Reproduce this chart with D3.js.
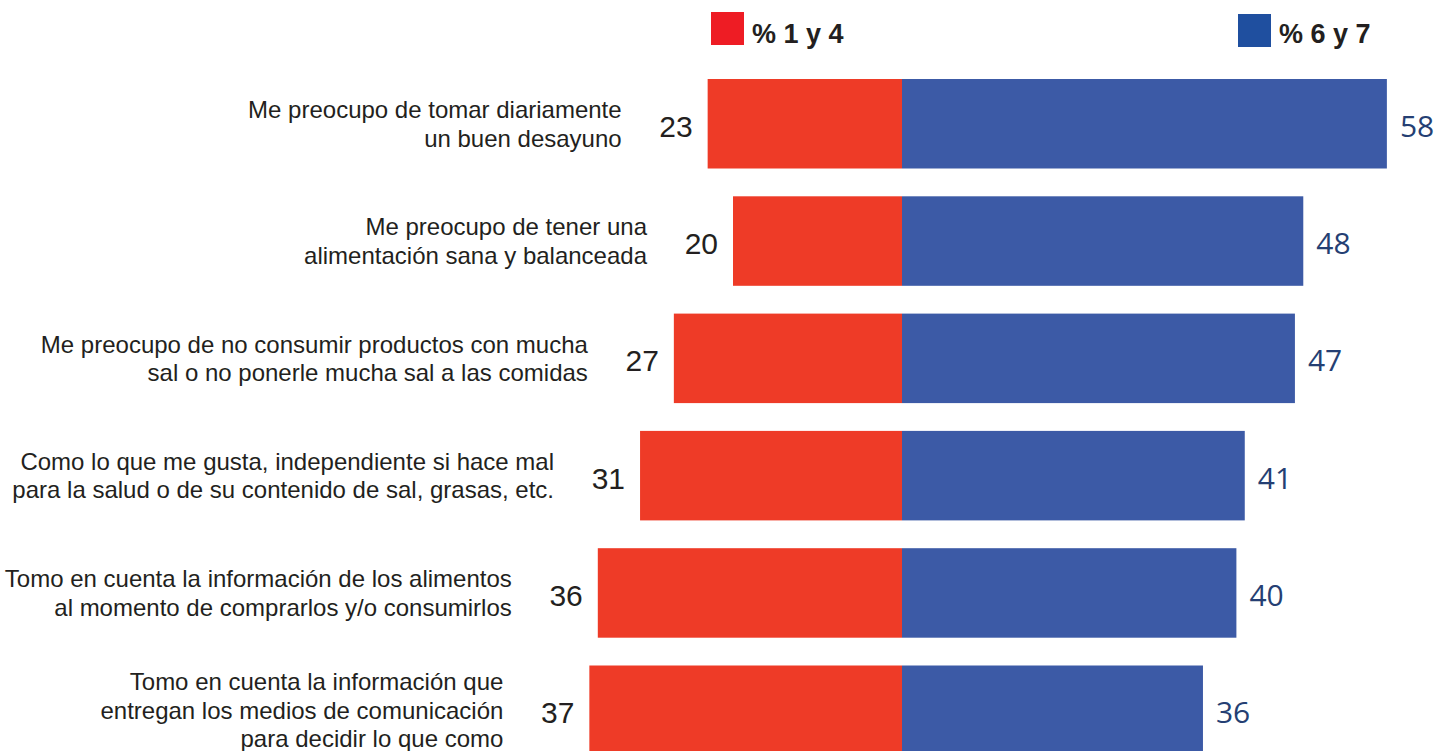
<!DOCTYPE html>
<html>
<head>
<meta charset="utf-8">
<script src="https://cdn.jsdelivr.net/npm/d3@7"></script>
<style>
  html, body { margin: 0; padding: 0; background: #fff; }
  svg { display: block; }
</style>
</head>
<body>
<svg id="chart" width="1448" height="751"></svg>
<script>
const categories = [
  ["Me preocupo de tomar diariamente", "un buen desayuno"],
  ["Me preocupo de tener una", "alimentación sana y balanceada"],
  ["Me preocupo de no consumir productos con mucha", "sal o no ponerle mucha sal a las comidas"],
  ["Como lo que me gusta, independiente si hace mal", "para la salud o de su contenido de sal, grasas, etc."],
  ["Tomo en cuenta la información de los alimentos", "al momento de comprarlos y/o consumirlos"],
  ["Tomo en cuenta la información que", "entregan los medios de comunicación", "para decidir lo que como"]
];
const low = [23, 20, 27, 31, 36, 37];    // % 1 y 4
const high = [58, 48, 47, 41, 40, 36];   // % 6 y 7
const seriesNames = ["% 1 y 4", "% 6 y 7"];

const svg = d3.select("#chart");
const cx = 902;
const xLeft = d3.scaleLinear().domain([0, 40]).range([0, 338]);
const xRight = d3.scaleLinear().domain([0, 60]).range([0, 501.6]);
const ids = categories.map((d, i) => i);
const y = d3.scaleBand().domain(ids).range([51.2, 782.8]).paddingInner(0.237).paddingOuter(0.237);

const redBar = "#ee3b27", blueBar = "#3c5aa6";

// bars
svg.append("g").selectAll("rect").data(ids).join("rect")
  .attr("x", i => cx - xLeft(low[i])).attr("y", i => y(i))
  .attr("width", i => xLeft(low[i])).attr("height", y.bandwidth())
  .attr("fill", redBar);
svg.append("g").selectAll("rect").data(ids).join("rect")
  .attr("x", cx).attr("y", i => y(i))
  .attr("width", i => xRight(high[i])).attr("height", y.bandwidth())
  .attr("fill", blueBar);

// value labels
svg.append("g").selectAll("text").data(ids).join("text")
  .attr("x", i => cx - xLeft(low[i]) - 15)
  .attr("y", i => y(i) + y.bandwidth() / 2 + 13)
  .attr("text-anchor", "end")
  .attr("font-family", "'Liberation Sans', Arial, sans-serif")
  .attr("font-size", 30).attr("fill", "#231f20")
  .text(i => low[i]);
svg.append("g").selectAll("text").data(ids).join("text")
  .attr("x", i => cx + xRight(high[i]) + 13)
  .attr("y", i => y(i) + y.bandwidth() / 2 + 13)
  .attr("text-anchor", "start")
  .attr("font-family", "'Open Sans', sans-serif")
  .attr("font-size", 30).attr("fill", "#253f73")
  .text(i => high[i]);

// category labels
const lh = 28.5;
const lab = svg.append("g").selectAll("text").data(ids).join("text")
  .attr("text-anchor", "end")
  .attr("font-family", "'Liberation Sans', Arial, sans-serif")
  .attr("font-size", 24).attr("fill", "#231f20");
lab.each(function(i) {
  const t = d3.select(this);
  const lines = categories[i];
  const c = y(i) + y.bandwidth() / 2;
  const xEnd = cx - xLeft(low[i]) - 86;
  lines.forEach((l, k) => {
    t.append("tspan").attr("x", xEnd)
      .attr("y", c + (k - (lines.length - 1) / 2) * lh + 8.5)
      .text(l);
  });
});

// legend
const legend = [
  {name: seriesNames[0], color: "#ee1c24", x: 711, y: 12},
  {name: seriesNames[1], color: "#1f4f9f", x: 1238, y: 14}
];
const lg = svg.append("g").selectAll("g").data(legend).join("g");
lg.append("rect").attr("x", d => d.x).attr("y", d => d.y).attr("width", 33).attr("height", 33).attr("fill", d => d.color);
lg.append("text").attr("x", d => d.x + 41).attr("y", 43)
  .attr("font-family", "'Liberation Sans', Arial, sans-serif")
  .attr("font-weight", "bold").attr("font-size", 27).attr("fill", "#231f20")
  .text(d => d.name);
</script>
</body>
</html>
